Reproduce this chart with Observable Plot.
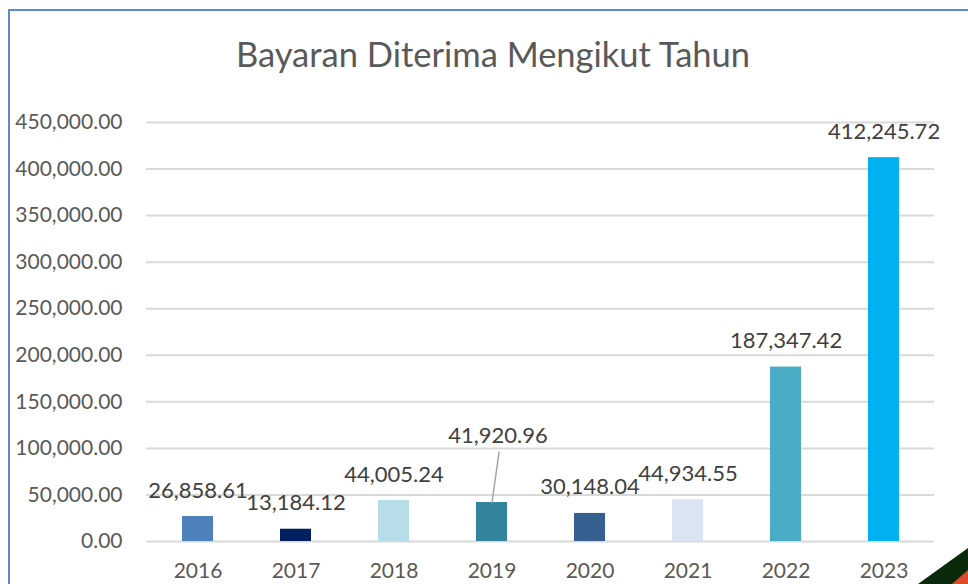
<!DOCTYPE html>
<html>
<head>
<meta charset="utf-8">
<script src="https://cdn.jsdelivr.net/npm/d3@7"></script>
<script src="https://cdn.jsdelivr.net/npm/@observablehq/plot@0.6"></script>
<style>
  html, body { margin: 0; padding: 0; background: #fff; width: 968px; height: 584px; overflow: hidden; }
  body { position: relative; font-family: Lato, "Liberation Sans", sans-serif; }
  #frame { position: absolute; left: 8px; top: 9px; right: -10px; bottom: -10px; border-left: 2.5px solid #5b8bc9; border-top: 2.5px solid #5b8bc9; pointer-events: none; }
  #title { height: 90px; line-height: 108px; text-align: center; font-size: 34.5px; color: #595959; padding-left: 18px; }
  #corner1 { position: absolute; right: 0; bottom: 0; width: 50px; height: 36px; background: #0b2a0b; clip-path: polygon(100% 0, 100% 100%, 0 100%); }
  #corner2 { position: absolute; right: 0; bottom: 0; width: 16px; height: 14px; background: #e04a2c; clip-path: polygon(100% 0, 100% 100%, 0 100%); }
</style>
</head>
<body>
<div id="frame"></div>
<div id="title">Bayaran Diterima Mengikut Tahun</div>
<div id="chart"></div>
<div id="corner1"></div>
<div id="corner2"></div>
<script>
const years = ["2016", "2017", "2018", "2019", "2020", "2021", "2022", "2023"];
const values = [26858.61, 13184.12, 44005.24, 41920.96, 30148.04, 44934.55, 187347.42, 412245.72];
const colors = ["#4f81bd", "#002060", "#b7dde8", "#31849b", "#366092", "#dbe5f1", "#4bacc6", "#00b0f0"];
const yTicks = [0, 50000, 100000, 150000, 200000, 250000, 300000, 350000, 400000, 450000];
const movedLabelYear = "2019";

const data = years.map((y, i) => ({year: y, value: values[i], color: colors[i]}));
const fmt = d3.format(",.2f");

const leader = {
  draw(context, l) { context.moveTo(0, 0); context.lineTo(0, -l); }
};

const chart = Plot.plot({
  width: 968,
  height: 494,
  marginLeft: 146,
  marginRight: 34,
  marginTop: 32,
  marginBottom: 43,
  style: {fontFamily: "Lato, 'Liberation Sans', sans-serif", fontSize: "21px", color: "#595959", background: "transparent"},
  x: {domain: years, paddingInner: 0.685, paddingOuter: 0.33, label: null, tickSize: 0, tickPadding: 22, fontSize: 22},
  y: {domain: [0, 450000], ticks: yTicks, tickFormat: fmt, label: null, tickSize: 0, tickPadding: 24},
  marks: [
    Plot.ruleY(yTicks, {stroke: "#d9d9d9", strokeWidth: 2}),
    Plot.barY(data, {x: "year", y: "value", fill: "color"}),
    Plot.vector(data.filter(d => d.year === movedLabelYear), {x: "year", y: "value", length: 51, rotate: 8, anchor: "start", shape: leader, stroke: "#a6a6a6", strokeWidth: 1.5}),
    Plot.text(data.filter(d => d.year !== movedLabelYear), {x: "year", y: "value", text: d => fmt(d.value), dy: -26, fill: "#404040", fontSize: 22}),
    Plot.text(data.filter(d => d.year === movedLabelYear), {x: "year", y: "value", text: d => fmt(d.value), dy: -67, dx: 6, fill: "#404040", fontSize: 22})
  ]
});
document.getElementById("chart").append(chart);
</script>
</body>
</html>
